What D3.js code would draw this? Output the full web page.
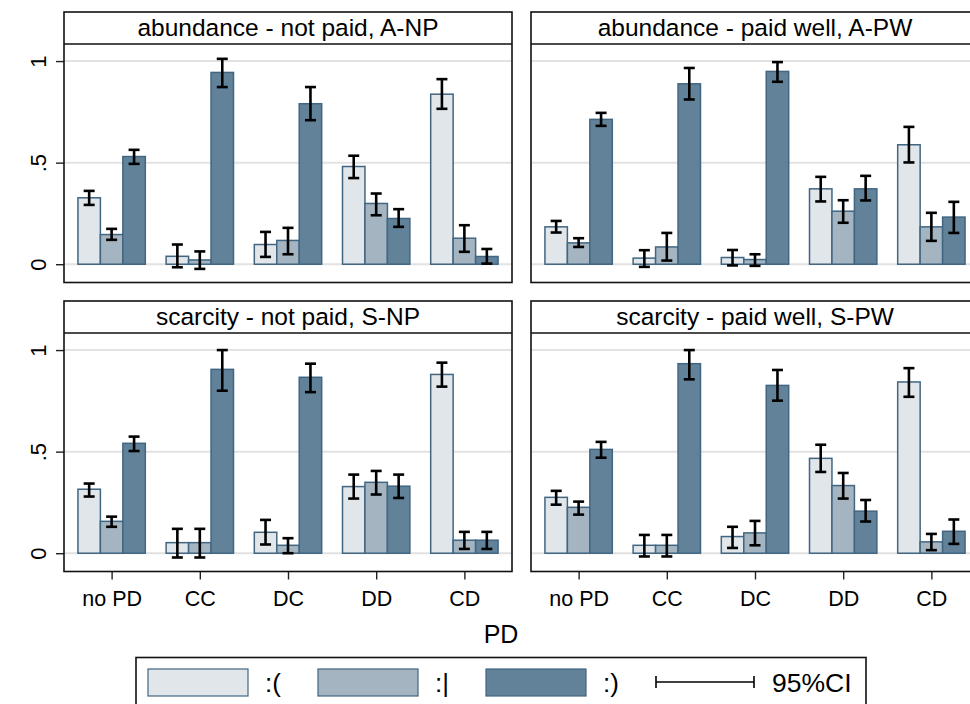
<!DOCTYPE html>
<html>
<head>
<meta charset="utf-8">
<script src="https://cdn.jsdelivr.net/npm/d3@7"></script>
<style>
  body { margin: 0; background: #fff; }
  svg { display: block; font-family: "Liberation Sans", Arial, sans-serif; }
  .grid line { stroke: #e2e2e2; stroke-width: 2; }
  .frame { fill: none; stroke: #111; stroke-width: 1.6; }
</style>
</head>
<body>
<svg id="chart" width="970" height="704"></svg>
<script>
// categories and series
const categories = ["no PD", "CC", "DC", "DD", "CD"];
const moods = [":(", ":|", ":)"];
const panelTitles = ["abundance - not paid, A-NP", "abundance - paid well, A-PW",
                     "scarcity - not paid, S-NP", "scarcity - paid well, S-PW"];
const yTicks = [0, 0.5, 1];
const yTickLabels = ["0", ".5", "1"];

// means per category, order [:(, :|, :)]
const meanANP = [[0.327, 0.146, 0.530], [0.039, 0.021, 0.944], [0.097, 0.117, 0.790], [0.481, 0.299, 0.225], [0.837, 0.128, 0.038]];
const meanAPW = [[0.184, 0.105, 0.713], [0.030, 0.085, 0.888], [0.033, 0.023, 0.949], [0.371, 0.261, 0.371], [0.588, 0.184, 0.232]];
const meanSNP = [[0.315, 0.157, 0.541], [0.052, 0.052, 0.905], [0.103, 0.039, 0.866], [0.328, 0.349, 0.330], [0.880, 0.064, 0.064]];
const meanSPW = [[0.275, 0.226, 0.511], [0.039, 0.039, 0.933], [0.082, 0.100, 0.826], [0.467, 0.333, 0.207], [0.843, 0.056, 0.108]];

// 95% CI lower bounds
const loANP = [[0.292, 0.120, 0.494], [-0.015, -0.023, 0.872], [0.036, 0.049, 0.709], [0.424, 0.241, 0.184], [0.765, 0.061, 0.003]];
const loAPW = [[0.156, 0.085, 0.681], [-0.013, 0.018, 0.811], [-0.006, -0.008, 0.898], [0.309, 0.204, 0.314], [0.501, 0.115, 0.154]];
const loSNP = [[0.279, 0.130, 0.503], [-0.021, -0.021, 0.800], [0.043, 0.000, 0.793], [0.269, 0.289, 0.272], [0.820, 0.021, 0.021]];
const loSPW = [[0.239, 0.190, 0.470], [-0.016, -0.016, 0.856], [0.026, 0.039, 0.751], [0.400, 0.269, 0.156], [0.770, 0.015, 0.046]];

// 95% CI upper bounds
const hiANP = [[0.361, 0.174, 0.563], [0.097, 0.063, 1.011], [0.159, 0.179, 0.872], [0.534, 0.348, 0.271], [0.911, 0.192, 0.075]];
const hiAPW = [[0.213, 0.128, 0.745], [0.069, 0.154, 0.966], [0.070, 0.049, 0.995], [0.430, 0.315, 0.435], [0.676, 0.253, 0.307]];
const hiSNP = [[0.343, 0.180, 0.574], [0.120, 0.120, 1.000], [0.164, 0.074, 0.933], [0.387, 0.405, 0.387], [0.938, 0.105, 0.105]];
const hiSPW = [[0.307, 0.254, 0.548], [0.090, 0.090, 1.000], [0.130, 0.159, 0.902], [0.534, 0.395, 0.262], [0.911, 0.095, 0.166]];

const colors = ["#e0e6ea", "#a4b5c1", "#62829a"];
const barStroke = "#416682";

// build panel table from the arrays
const panels = [
  { title: panelTitles[0], mean: meanANP, lo: loANP, hi: hiANP, col: 0, row: 0 },
  { title: panelTitles[1], mean: meanAPW, lo: loAPW, hi: hiAPW, col: 1, row: 0 },
  { title: panelTitles[2], mean: meanSNP, lo: loSNP, hi: hiSNP, col: 0, row: 1 },
  { title: panelTitles[3], mean: meanSPW, lo: loSPW, hi: hiSPW, col: 1, row: 1 }
];

const svg = d3.select("#chart");
const panelW = 448, stripH = 32, plotH = 238.5;
const colX = [64, 531], rowY = [12, 301];

const x = d3.scalePoint().domain(categories).range([0, panelW]).padding(0.54);
const groupW = x.step() * 0.764;
const xs = d3.scaleBand().domain(moods).range([-groupW / 2, groupW / 2]);
const y = d3.scaleLinear().domain([-0.09, 1.084]).range([plotH, 0]);

panels.forEach(p => {
  const g = svg.append("g")
    .attr("transform", `translate(${colX[p.col]},${rowY[p.row]})`);

  // title strip
  g.append("text")
    .attr("x", panelW / 2).attr("y", 23.5)
    .attr("text-anchor", "middle")
    .style("font-size", "24.5px")
    .text(p.title);

  const plot = g.append("g").attr("transform", `translate(0,${stripH})`);

  plot.append("g").attr("class", "grid")
    .selectAll("line").data(yTicks).join("line")
    .attr("x1", 0).attr("x2", panelW)
    .attr("y1", d => y(d)).attr("y2", d => y(d));

  const groups = plot.selectAll("g.cat").data(categories).join("g")
    .attr("class", "cat")
    .attr("transform", d => `translate(${x(d)},0)`);

  groups.each(function(cat, ci) {
    const cg = d3.select(this);
    const rows = moods.map((m, si) => ({ m, si, v: p.mean[ci][si], lo: p.lo[ci][si], hi: p.hi[ci][si] }));
    cg.selectAll("rect").data(rows).join("rect")
      .attr("x", d => xs(d.m))
      .attr("width", xs.bandwidth())
      .attr("y", d => y(d.v))
      .attr("height", d => y(0) - y(d.v))
      .attr("fill", d => colors[d.si])
      .attr("stroke", barStroke)
      .attr("stroke-width", 1.5);

    const eb = cg.selectAll("g.err").data(rows).join("g").attr("class", "err")
      .attr("transform", d => `translate(${xs(d.m) + xs.bandwidth() / 2},0)`)
      .attr("stroke", "#000").attr("stroke-width", 2.6);
    eb.append("line").attr("y1", d => y(d.lo)).attr("y2", d => y(d.hi));
    eb.append("line").attr("x1", -5.5).attr("x2", 5.5).attr("y1", d => y(d.lo)).attr("y2", d => y(d.lo));
    eb.append("line").attr("x1", -5.5).attr("x2", 5.5).attr("y1", d => y(d.hi)).attr("y2", d => y(d.hi));
  });

  // frame and strip divider
  g.append("rect").attr("class", "frame")
    .attr("x", 0).attr("y", 0).attr("width", panelW).attr("height", stripH + plotH);
  g.append("line").attr("class", "frame")
    .attr("x1", 0).attr("x2", panelW).attr("y1", stripH).attr("y2", stripH);

  // y axis on left column
  if (p.col === 0) {
    const yAxis = d3.axisLeft(y).tickValues(yTicks)
      .tickFormat((d, i) => yTickLabels[i]).tickSize(8).tickPadding(10);
    const ya = plot.append("g").call(yAxis);
    ya.select(".domain").remove();
    ya.selectAll(".tick line").attr("stroke", "#222").attr("stroke-width", 1.4);
    ya.selectAll(".tick text")
      .attr("fill", "#000")
      .style("font-size", "22px")
      .attr("text-anchor", "middle")
      .attr("transform", "rotate(-90)")
      .attr("x", 0).attr("y", -18).attr("dy", 0);
  }

  // x axis on bottom row
  if (p.row === 1) {
    const xAxis = d3.axisBottom(x).tickSize(8).tickPadding(11);
    const xa = plot.append("g").attr("transform", `translate(0,${plotH})`).call(xAxis);
    xa.select(".domain").remove();
    xa.selectAll(".tick line").attr("stroke", "#222").attr("stroke-width", 1.4);
    xa.selectAll(".tick text").attr("fill", "#000").style("font-size", "21.5px");
  }
});

// x axis title
svg.append("text")
  .attr("x", 501).attr("y", 643)
  .attr("text-anchor", "middle")
  .style("font-size", "25px")
  .text("PD");

// legend
const legend = svg.append("g");
legend.append("rect").attr("class", "frame")
  .attr("x", 136).attr("y", 657.5).attr("width", 730).attr("height", 70);
const swatchX = [148, 318, 486];
const labelX = [265, 435, 603];
moods.forEach((m, i) => {
  legend.append("rect")
    .attr("x", swatchX[i]).attr("y", 669).attr("width", 100).attr("height", 27)
    .attr("fill", colors[i]).attr("stroke", barStroke).attr("stroke-width", 1.2);
  legend.append("text")
    .attr("x", labelX[i]).attr("y", 692)
    .style("font-size", "26px")
    .text(m);
});
const ci = legend.append("g").attr("stroke", "#000").attr("stroke-width", 1.6);
ci.append("line").attr("x1", 656).attr("x2", 754).attr("y1", 682).attr("y2", 682);
ci.append("line").attr("x1", 656).attr("x2", 656).attr("y1", 676).attr("y2", 688);
ci.append("line").attr("x1", 754).attr("x2", 754).attr("y1", 676).attr("y2", 688);
legend.append("text")
  .attr("x", 772).attr("y", 692)
  .style("font-size", "26.5px")
  .text("95%CI");
</script>
</body>
</html>
